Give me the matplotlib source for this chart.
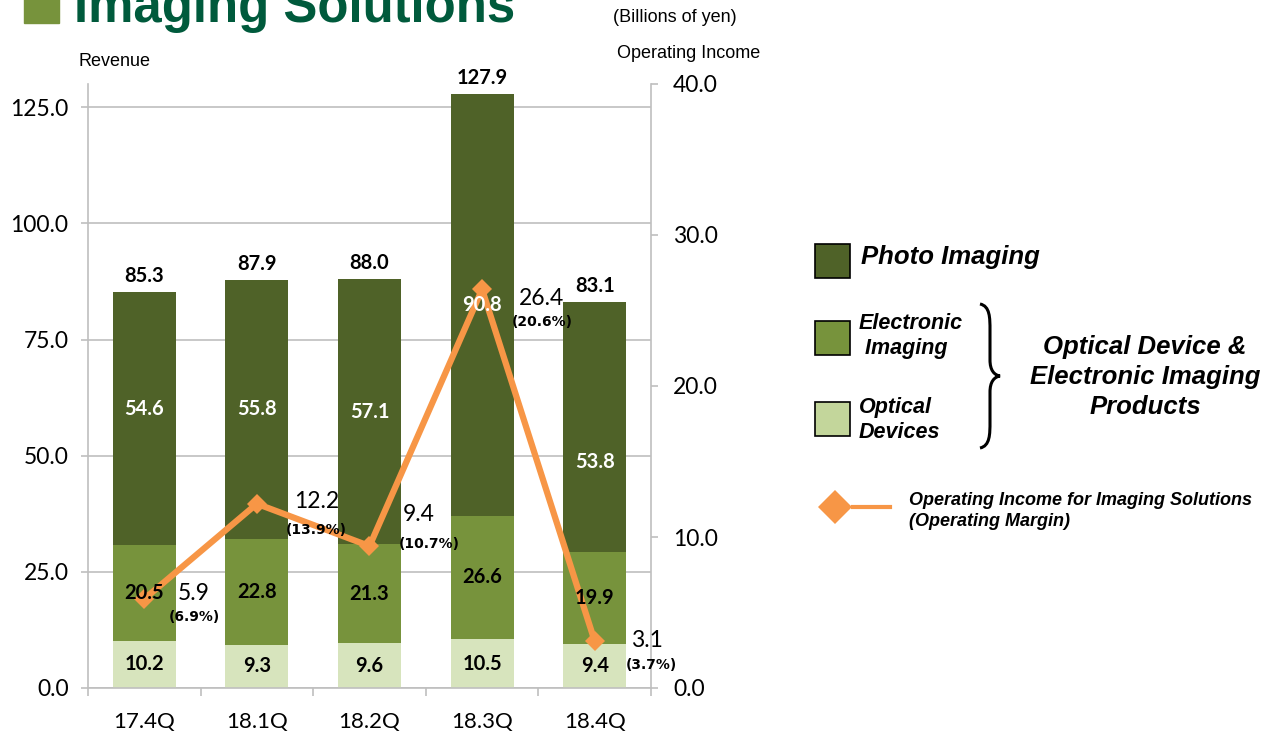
import matplotlib.pyplot as plt
from matplotlib.path import Path
from matplotlib.patches import PathPatch, Rectangle
from matplotlib.lines import Line2D

# Imaging Solutions segment, billions of yen
quarters = ['17.4Q', '18.1Q', '18.2Q', '18.3Q', '18.4Q']
optical_devices = [10.2, 9.3, 9.6, 10.5, 9.4]
electronic_imaging = [20.5, 22.8, 21.3, 26.6, 19.9]
photo_imaging = [54.6, 55.8, 57.1, 90.8, 53.8]
revenue_total = [85.3, 87.9, 88.0, 127.9, 83.1]
operating_income = [5.9, 12.2, 9.4, 26.4, 3.1]
operating_margin = ['6.9%', '13.9%', '10.7%', '20.6%', '3.7%']

PHOTO = '#4F6228'
ELEC = '#77933C'
OPT = '#D7E4BD'
OPT_LEG = '#C3D69B'
ORANGE = '#F79646'
GRID = '#BFBFBF'
TITLE = '#005A3C'

NUM_FONT = 'Lato'
LEG_FONT = 'Liberation Sans'

W, H = 1266, 733
fig = plt.figure(figsize=(W / 100, H / 100), dpi=100)


def fx(px):
    return px / W


def fy(py):
    return 1 - py / H


ax = fig.add_axes([fx(88), fy(688), fx(651 - 88), (688 - 84) / H])
ax2 = ax.twinx()

x = range(len(quarters))
bottom2 = [a + b for a, b in zip(optical_devices, electronic_imaging)]
width = 0.56
ax.bar(x, optical_devices, width, color=OPT, zorder=2)
ax.bar(x, electronic_imaging, width, bottom=optical_devices, color=ELEC, zorder=2)
ax.bar(x, photo_imaging, width, bottom=bottom2, color=PHOTO, zorder=2)

ax.set_xlim(-0.5, 4.5)
ax.set_ylim(0, 130)
ax2.set_ylim(0, 40)

ax.set_yticks([0, 25, 50, 75, 100, 125])
ax.set_yticklabels(['%.1f' % v for v in [0, 25, 50, 75, 100, 125]],
                   fontname=NUM_FONT, fontsize=16.5)
ax2.set_yticks([0, 10, 20, 30, 40])
ax2.set_yticklabels(['%.1f' % v for v in [0, 10, 20, 30, 40]],
                    fontname=NUM_FONT, fontsize=16.5)
ax.set_xticks(list(x))
ax.set_xticklabels(quarters, fontname=NUM_FONT, fontsize=16)
ax.set_xticks([i - 0.5 for i in range(len(quarters) + 1)], minor=True)
ax.tick_params(axis='x', which='major', length=0, pad=17)
ax.tick_params(axis='x', which='minor', length=6, color=GRID, width=1.2)
ax.tick_params(axis='y', length=5, color=GRID, width=1.2, pad=9)
ax2.tick_params(axis='y', length=5, color=GRID, width=1.2, pad=11)

ax.yaxis.grid(True, color=GRID, linewidth=1.2)
ax.set_axisbelow(True)
for a in (ax, ax2):
    a.spines['top'].set_visible(False)
    for s in ('left', 'right', 'bottom'):
        a.spines[s].set_color(GRID)
        a.spines[s].set_linewidth(1.2)
ax.spines['right'].set_visible(False)
ax2.spines['left'].set_visible(False)
ax2.spines['bottom'].set_visible(False)

# operating income line on the right axis
ax2.plot(x, operating_income, color=ORANGE, linewidth=4.5, marker='D',
         markersize=10, markeredgewidth=0, zorder=3)

# segment labels, drawn above the line
photo_dy = [10, 0, 0, 0, -35]
for i in x:
    ax2.annotate('%.1f' % optical_devices[i], (i, optical_devices[i] / 2),
                 xycoords=ax.transData, ha='center', va='center',
                 fontname=NUM_FONT, fontsize=14.5, fontweight='bold', zorder=5)
    ax2.annotate('%.1f' % electronic_imaging[i],
                 (i, optical_devices[i] + electronic_imaging[i] / 2),
                 xycoords=ax.transData, ha='center', va='center',
                 fontname=NUM_FONT, fontsize=14.5, fontweight='bold', zorder=5)
    ax2.annotate('%.1f' % photo_imaging[i],
                 (i, bottom2[i] + photo_imaging[i] / 2),
                 xycoords=ax.transData, xytext=(0, photo_dy[i]),
                 textcoords='offset pixels', ha='center', va='center',
                 fontname=NUM_FONT, fontsize=14.5, fontweight='bold',
                 color='white', zorder=5)
    ax2.annotate('%.1f' % revenue_total[i], (i, revenue_total[i]),
                 xycoords=ax.transData, xytext=(0, 16),
                 textcoords='offset pixels', ha='center', va='center',
                 fontname=NUM_FONT, fontsize=14.5, fontweight='bold', zorder=5)

# operating income and margin labels
oi_offsets = [(49, 5), (60, 2), (49, 32), (59, -9), (52, 1)]
pct_offsets = [(50, -18), (59, -26), (60, 2), (60, -33), (57, -24)]
for i in x:
    ax2.annotate('%.1f' % operating_income[i], (i, operating_income[i]),
                 xytext=oi_offsets[i], textcoords='offset pixels',
                 ha='center', va='center', fontname=NUM_FONT, fontsize=16.5,
                 zorder=4)
    ax2.annotate('(%s)' % operating_margin[i], (i, operating_income[i]),
                 xytext=pct_offsets[i], textcoords='offset pixels',
                 ha='center', va='center', family='DejaVu Sans', fontsize=10,
                 fontweight='bold', zorder=4)

# header
fig.patches.append(Rectangle((fx(24), fy(23)), fx(35), 30 / H,
                             transform=fig.transFigure, color=ELEC))
fig.text(fx(74), fy(22), 'Imaging Solutions', fontname=LEG_FONT,
         fontsize=36.6, fontweight='bold', color=TITLE, va='baseline')
fig.text(fx(675), fy(18), '(Billions of yen)', fontname=LEG_FONT,
         fontsize=13, ha='center', va='center')
fig.text(fx(689), fy(54), 'Operating Income', fontname=LEG_FONT,
         fontsize=13, ha='center', va='center')
fig.text(fx(114), fy(62), 'Revenue', fontname=LEG_FONT,
         fontsize=13, ha='center', va='center')

# legend
leg_items = [(244, PHOTO), (321, ELEC), (402, OPT_LEG)]
for top, col in leg_items:
    fig.patches.append(Rectangle((fx(815), fy(top + 34)), fx(35), 34 / H,
                                 transform=fig.transFigure, facecolor=col,
                                 edgecolor='black', linewidth=1.2))
leg_kw = dict(fontname=LEG_FONT, fontweight='bold', style='italic')
fig.text(fx(861), fy(257), 'Photo Imaging', fontsize=18.5, va='center', **leg_kw)
fig.text(fx(859), fy(336), 'Electronic\n Imaging', fontsize=15.5,
         va='center', linespacing=1.3, **leg_kw)
fig.text(fx(859), fy(420), 'Optical\nDevices', fontsize=15.5,
         va='center', linespacing=1.3, **leg_kw)
fig.text(fx(1145), fy(377), 'Optical Device &\nElectronic Imaging\nProducts',
         fontsize=18.5, ha='center', va='center', linespacing=1.3, **leg_kw)
fig.text(fx(909), fy(511), 'Operating Income for Imaging Solutions\n(Operating Margin)',
         fontsize=13, va='center', linespacing=1.35, **leg_kw)

# curly brace grouping the two optical segments
brace = [(980, 304), (990, 306), (990, 318), (990, 330), (990, 360),
         (990, 370), (994, 375), (1000, 376), (994, 377), (990, 382),
         (990, 392), (990, 422), (990, 434), (990, 446), (980, 448)]
codes = [Path.MOVETO] + [Path.CURVE4] * 3 + [Path.LINETO] + [Path.CURVE4] * 6 \
    + [Path.LINETO] + [Path.CURVE4] * 3
brace_path = Path([(fx(a), fy(b)) for a, b in brace], codes)
fig.patches.append(PathPatch(brace_path, transform=fig.transFigure,
                             fill=False, edgecolor='black', linewidth=2.2))

fig.lines.append(Line2D([fx(853), fx(890)], [fy(507), fy(507)],
                        transform=fig.transFigure, color=ORANGE, linewidth=3))
fig.lines.append(Line2D([fx(835)], [fy(507)], transform=fig.transFigure,
                        marker='D', markersize=17, color=ORANGE,
                        markeredgewidth=0))

fig.savefig('out.png', dpi=100)
